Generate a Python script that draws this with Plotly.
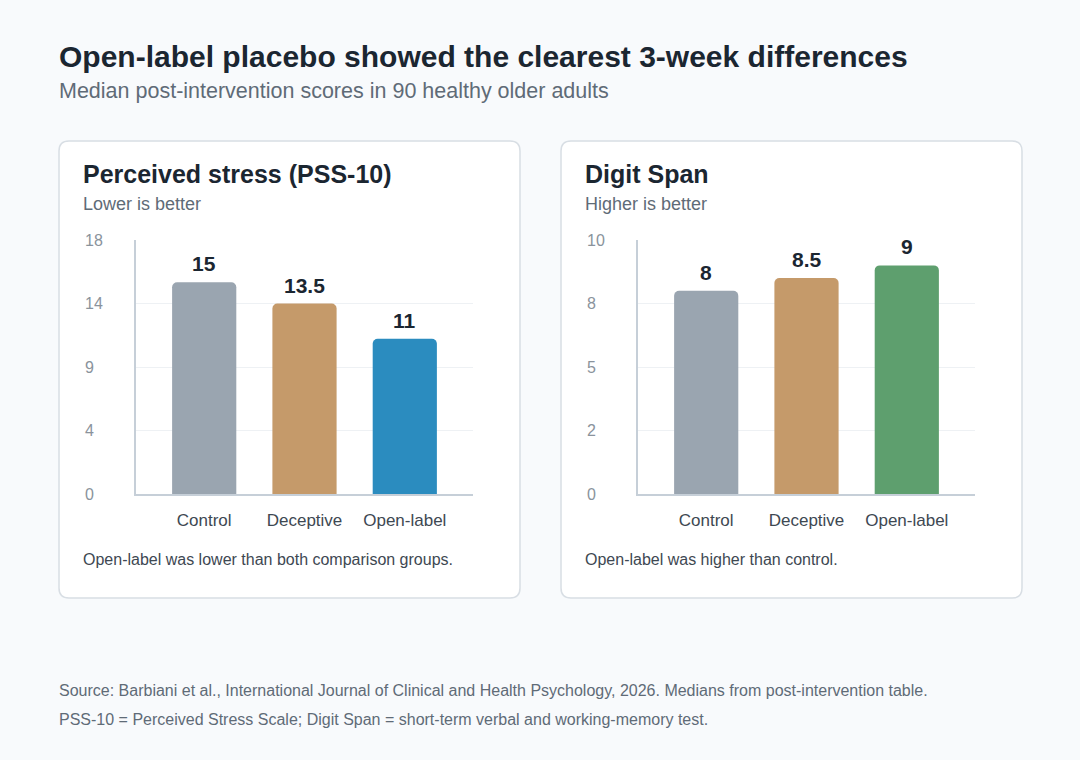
import plotly.graph_objects as go

W, H = 1080, 760

# ---- data ----
groups = ["Control", "Deceptive", "Open-label"]
stress_values = [15, 13.5, 11]
digit_values = [8, 8.5, 9]
stress_ticks = [0, 4.5, 9, 13.5, 18]
stress_ticktext = ["0", "4", "9", "14", "18"]
digit_ticks = [0, 2.5, 5, 7.5, 10]
digit_ticktext = ["0", "2", "5", "8", "10"]
stress_colors = ["#9aa5b0", "#c59a6a", "#2b8cbf"]
digit_colors = ["#9aa5b0", "#c59a6a", "#5e9f6e"]

TITLE = "Open-label placebo showed the clearest 3-week differences"
SUBTITLE = "Median post-intervention scores in 90 healthy older adults"
FOOT1 = "Source: Barbiani et al., International Journal of Clinical and Health Psychology, 2026. Medians from post-intervention table."
FOOT2 = "PSS-10 = Perceived Stress Scale; Digit Span = short-term verbal and working-memory test."

FONT = "Liberation Sans, Arial, sans-serif"
DARK = "#1b2631"
MUTED = "#5f6b77"
TEXT = "#3e4852"
TICK = "#8a939c"
AXIS = "#c6cfd8"
GRID = "#eef1f4"


def px(x):
    return x / W


def py(y):
    return 1 - y / H


def rounded_rect(x0, y0, x1, y1, r):
    pts = [
        f"M {px(x0 + r)},{py(y0)}",
        f"L {px(x1 - r)},{py(y0)}",
        f"Q {px(x1)},{py(y0)} {px(x1)},{py(y0 + r)}",
        f"L {px(x1)},{py(y1 - r)}",
        f"Q {px(x1)},{py(y1)} {px(x1 - r)},{py(y1)}",
        f"L {px(x0 + r)},{py(y1)}",
        f"Q {px(x0)},{py(y1)} {px(x0)},{py(y1 - r)}",
        f"L {px(x0)},{py(y0 + r)}",
        f"Q {px(x0)},{py(y0)} {px(x0 + r)},{py(y0)}",
        "Z",
    ]
    return " ".join(pts)


fig = go.Figure()

panels = [
    dict(vals=stress_values, colors=stress_colors, ticks=stress_ticks, ticktext=stress_ticktext,
         ymax=18, card=(59, 141, 520, 598), plot=(136, 473), xa="x", ya="y",
         title="Perceived stress (PSS-10)", sub="Lower is better",
         note="Open-label was lower than both comparison groups."),
    dict(vals=digit_values, colors=digit_colors, ticks=digit_ticks, ticktext=digit_ticktext,
         ymax=10, card=(561, 141, 1022, 598), plot=(638, 975), xa="x2", ya="y2",
         title="Digit Span", sub="Higher is better",
         note="Open-label was higher than control."),
]

shapes = []
annotations = []


def label(text, x, y, size, color):
    annotations.append(dict(text=text, x=px(x), y=py(y), xref="paper", yref="paper",
                            xanchor="left", yanchor="middle", showarrow=False,
                            font=dict(family=FONT, size=size, color=color)))


label(f"<b>{TITLE}</b>", 57, 56, 30, DARK)
label(SUBTITLE, 57, 91, 21.5, MUTED)
label(FOOT1, 57, 690, 16, MUTED)
label(FOOT2, 57, 719, 16, MUTED)

layout_axes = {}
for i, p in enumerate(panels):
    cx0, cy0, cx1, cy1 = p["card"]
    shapes.append(dict(type="path", path=rounded_rect(cx0, cy0, cx1, cy1, 10),
                       xref="paper", yref="paper", fillcolor="#ffffff",
                       line=dict(color="#d8dee4", width=1.5), layer="below"))
    label(f"<b>{p['title']}</b>", cx0 + 22, 174, 25, DARK)
    label(p["sub"], cx0 + 22, 204, 18, MUTED)
    label(p["note"], cx0 + 22, 559, 16, TEXT)

    fig.add_trace(go.Bar(
        x=groups, y=p["vals"], marker=dict(color=p["colors"], cornerradius=5, line=dict(width=0)),
        width=0.64, xaxis=p["xa"], yaxis=p["ya"], showlegend=False, hoverinfo="x+y",
    ))
    for g, v in zip(groups, p["vals"]):
        annotations.append(dict(text=f"<b>{v:g}</b>", x=g, y=v, xref=p["xa"], yref=p["ya"],
                                xanchor="center", yanchor="bottom", yshift=5, showarrow=False,
                                font=dict(family=FONT, size=21, color=DARK)))
    # y tick labels, left aligned
    xdom = p["xa"] + " domain"
    for tv, tt in zip(p["ticks"], p["ticktext"]):
        annotations.append(dict(text=tt, x=(cx0 + 24 - p["plot"][0]) / (p["plot"][1] - p["plot"][0]),
                                y=tv, xref=xdom, yref=p["ya"], xanchor="left", yanchor="middle",
                                showarrow=False, font=dict(family=FONT, size=16, color=TICK)))

    suffix = "" if i == 0 else "2"
    layout_axes["xaxis" + suffix] = dict(
        domain=[px(p["plot"][0]), px(p["plot"][1])], anchor=p["ya"], range=[-0.68, 2.68],
        showline=True, linecolor=AXIS, linewidth=2, showgrid=False, ticks="",
        ticklabelstandoff=10,
        tickfont=dict(family=FONT, size=17, color=TEXT), fixedrange=True,
    )
    layout_axes["yaxis" + suffix] = dict(
        domain=[py(494), py(240)], anchor=p["xa"], range=[0, p["ymax"]],
        tickvals=p["ticks"], showticklabels=False, showline=True, linecolor=AXIS, linewidth=2,
        showgrid=True, gridcolor=GRID, gridwidth=1, zeroline=False, ticks="", fixedrange=True,
    )

fig.update_layout(
    width=W, height=H, margin=dict(l=0, r=0, t=0, b=0),
    paper_bgcolor="#f8fafc", plot_bgcolor="rgba(0,0,0,0)",
    shapes=shapes, annotations=annotations,
    font=dict(family=FONT), **layout_axes,
)

fig.write_html("out.html", config={"displayModeBar": False})
